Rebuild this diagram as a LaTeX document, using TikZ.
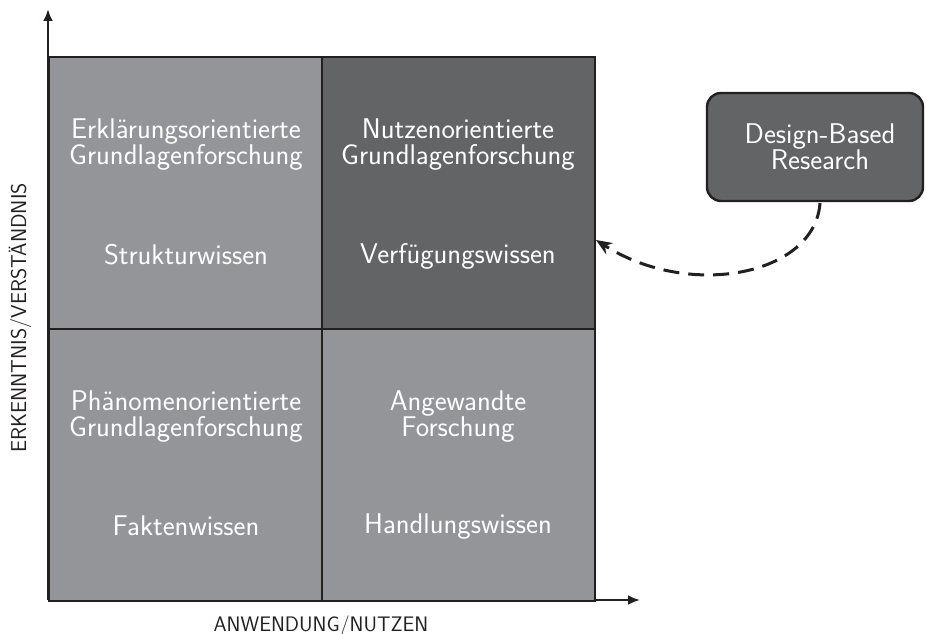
\documentclass[tikz,border=0pt]{standalone}
\usepackage{fontspec}
\usetikzlibrary{arrows.meta}
\definecolor{qlight}{HTML}{939598}
\definecolor{qdark}{HTML}{636466}
\definecolor{linec}{HTML}{231F20}
\begin{document}
\begin{tikzpicture}[x=1pt,y=-1pt,
  quad/.style={draw=linec,line width=2pt,minimum width=273pt,minimum height=272pt,inner sep=0pt,anchor=north west},
  qtext/.style={text=white,align=center,font=\sffamily\fontsize{28.5}{26}\selectfont,inner sep=0pt},
  qline/.style={qtext,anchor=base},
  axislbl/.style={font=\sffamily\fontsize{21}{24}\selectfont,text=linec,inner sep=0pt,anchor=base},
  axisline/.style={draw=linec,line width=2.4pt,-{Latex[length=12pt,width=10pt]}},
  dbrbox/.style={draw=linec,fill=qdark,line width=2.4pt,rounded corners=14pt,minimum width=216pt,minimum height=108pt,inner sep=0pt},
  dasharrow/.style={draw=linec,line width=3pt,dash pattern=on 16pt off 9pt,-{Stealth[length=16pt,width=13pt]}}
  ]
\useasboundingbox (0,0) rectangle (926,634);
% axes
\coordinate (origin) at (48,600);
\coordinate (ytip) at (48,9);
\coordinate (xtip) at (640,600);
\draw[axisline] (origin) -- (ytip);
\draw[axisline] (origin) -- (xtip);
% quadrants
\node[quad,fill=qlight] (q1) at (48,56) {};
\node[quad,fill=qdark] (q2) at (321,56) {};
\node[quad,fill=qlight] (q3) at (48,328) {};
\node[quad,fill=qlight] (q4) at (321,328) {};
% texts
\node[qtext] (t1a) at (186,145) {Erklärungsorientierte\\Grundlagenforschung};
\node[qline] (t1b) at (186,264) {Strukturwissen};
\node[qtext] (t2a) at (458,145) {Nutzenorientierte\\Grundlagenforschung};
\node[qline] (t2b) at (458,263) {Verfügungswissen};
\node[qtext] (t3a) at (186,417) {Phänomenorientierte\\Grundlagenforschung};
\node[qline] (t3b) at (186,535) {Faktenwissen};
\node[qtext] (t4a) at (458,417) {Angewandte\\Forschung};
\node[qline] (t4b) at (458,533) {Handlungswissen};
% axis labels
\node[axislbl] (xl) at (321,631) {ANWENDUNG/NUTZEN};
\node[axislbl,rotate=90,font=\sffamily\fontsize{21.5}{24}\selectfont] (yl) at (26,318) {ERKENNTNIS/VERSTÄNDNIS};
% DBR box
\node[dbrbox] (dbr) at (815,147) {};
\node[qtext] (dbrt) at (820,147) {Design-Based\\Research};
\coordinate (dbrstart) at (820,203);
\coordinate (target) at (596,240);
\draw[dasharrow] (dbrstart) .. controls (815,275) and (690,300) .. (target);
\end{tikzpicture}
\end{document}
